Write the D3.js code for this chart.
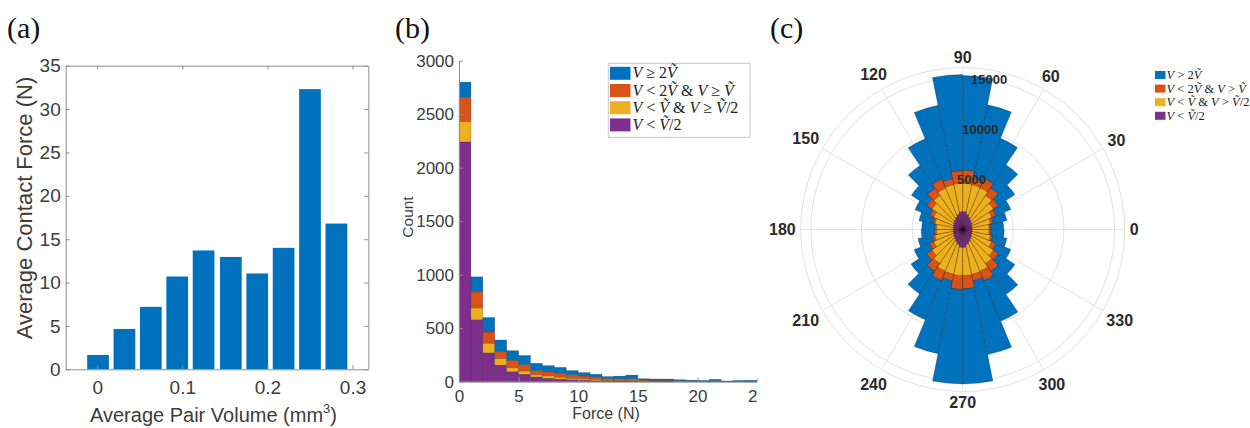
<!DOCTYPE html>
<html>
<head>
<meta charset="utf-8">
<script src="https://cdn.jsdelivr.net/npm/d3@7"></script>
<style>
  body { margin: 0; background: #fff; }
  svg { display: block; }
</style>
</head>
<body>
<svg id="fig" width="1250" height="428"></svg>
<script>
// ---------------- data ----------------
// (a) average contact force per pair-volume bin
const volumeBins = [0.001, 0.032, 0.063, 0.094, 0.125, 0.157, 0.188, 0.219, 0.250, 0.281];
const avgContactForce = [1.65, 4.65, 7.2, 10.7, 13.7, 12.95, 11.05, 14.0, 32.3, 16.8];
const forceTicksA = [0, 5, 10, 15, 20, 25, 30, 35];
const volumeTicks = [0, 0.1, 0.2, 0.3];

// (b) contact-force histogram (bins of 1 N) split by pair-volume class
const forceBinStart = [0, 1, 2, 3, 4, 5, 6, 7, 8, 9, 10, 11, 12, 13, 14, 15, 16, 17, 18, 19, 20, 21, 22, 23, 24];
const countSmall   = [2240, 580, 270, 155, 95, 70, 45, 32, 24, 18, 14, 11, 8, 6, 6, 4, 3, 3, 2, 2, 1, 2, 1, 1, 1];   // V < V~/2
const countMidLow  = [190, 110, 90, 60, 35, 30, 20, 23, 18, 14, 12, 9, 7, 7, 6, 5, 4, 3, 3, 2, 2, 2, 1, 1, 1];      // V~/2 <= V < V~
const countMidHigh = [225, 150, 105, 65, 70, 60, 40, 37, 38, 33, 28, 25, 15, 15, 16, 7, 6, 6, 5, 4, 3, 5, 2, 3, 3];  // V~ <= V < 2V~
const countLarge   = [145, 140, 135, 110, 90, 85, 67, 58, 54, 39, 31, 25, 18, 24, 34, 12, 12, 13, 9, 6, 5, 13, 3, 6, 8]; // V >= 2V~
const forceTicksB = [0, 5, 10, 15, 20, 25];
const countTicks = [0, 500, 1000, 1500, 2000, 2500, 3000];
const legendB = ["V \u2265 2V\u0303", "V < 2V\u0303 & V \u2265 V\u0303", "V < V\u0303 & V \u2265 V\u0303/2", "V < V\u0303/2"];

// (c) contact-direction rose, 32 sectors counter-clockwise from 0 deg
const roseLarge = [4050, 4450, 5150, 6200, 7700, 9750, 12550, 15200, 15300, 12500, 9700, 7600, 6100, 5100, 4400, 4050,
                   4100, 4500, 5200, 6150, 7650, 9650, 12500, 15250, 15250, 12600, 9800, 7700, 6200, 5150, 4450, 4100];
const roseMidHigh = [2770, 3050, 3550, 4250, 4950, 5450, 5150, 5850, 5800, 5100, 5400, 4900, 4250, 3500, 3000, 2750,
                     2800, 3050, 3550, 4300, 4950, 5450, 5150, 5900, 5850, 5150, 5450, 4950, 4250, 3550, 3000, 2780];
const roseMidLow = [2600, 2800, 3100, 3650, 4050, 4450, 4500, 4550, 4550, 4500, 4400, 4050, 3650, 3100, 2800, 2600,
                    2600, 2800, 3100, 3650, 4050, 4450, 4500, 4550, 4550, 4500, 4450, 4050, 3650, 3100, 2800, 2600];
const roseSmall = [910, 940, 990, 1070, 1190, 1330, 1530, 1760, 1760, 1530, 1330, 1190, 1070, 990, 940, 910,
                   910, 940, 990, 1070, 1190, 1330, 1530, 1760, 1760, 1530, 1330, 1190, 1070, 990, 940, 910];
const thetaTicks = [0, 30, 60, 90, 120, 150, 180, 210, 240, 270, 300, 330];
const rTicks = [5000, 10000, 15000];
const legendC = ["V > 2V\u0303", "V < 2V\u0303 & V > V\u0303", "V < V\u0303 & V > V\u0303/2", "V < V\u0303/2"];

// ---------------- styles ----------------
const BLUE = "#0072BD", ORANGE = "#D95319", YELLOW = "#EDB120", PURPLE = "#7E2F8E";
const AXIS = "#8f8f8f", TEXT = "#3c3c3c";
const SANS = "'Liberation Sans', Arial, Helvetica, sans-serif";
const SERIF = "'Liberation Serif', 'Times New Roman', serif";

const svg = d3.select("#fig");

function styleAxis(g, size) {
  g.attr("font-family", SANS).attr("font-size", size);
  g.select(".domain").attr("stroke", AXIS).attr("stroke-width", 1);
  g.selectAll(".tick line").attr("stroke", AXIS);
  g.selectAll(".tick text").attr("fill", TEXT);
}

function mathLabel(textSel, str) {
  const parts = str.match(/V\u0303?|[^V]+/g);
  parts.forEach(p => textSel.append("tspan")
    .attr("font-style", p[0] === "V" ? "italic" : "normal")
    .text(p));
}

// panel letters
[["(a)", 7], ["(b)", 395], ["(c)", 770]].forEach(([t, x]) => {
  svg.append("text").attr("x", x).attr("y", 38)
    .attr("font-family", SERIF).attr("font-size", 30).attr("fill", "#111").text(t);
});

// ---------------- (a) bar chart ----------------
{
  const g = svg.append("g");
  const x = d3.scaleLinear().domain([-0.037, 0.3185]).range([65.7, 368.3]);
  const y = d3.scaleLinear().domain([0, 35]).range([369.3, 65.7]);
  const barW = 0.0255;

  g.selectAll("rect.bar").data(volumeBins).join("rect").attr("class", "bar")
    .attr("x", d => x(d - barW / 2))
    .attr("width", d => x(d + barW / 2) - x(d - barW / 2))
    .attr("y", (d, i) => y(avgContactForce[i]))
    .attr("height", (d, i) => y(0) - y(avgContactForce[i]))
    .attr("fill", BLUE);

  const fmt = d => String(d);
  g.append("g").attr("transform", `translate(${x.range()[0]},0)`)
    .call(d3.axisLeft(y).tickValues(forceTicksA).tickSize(-4).tickSizeOuter(0).tickPadding(5))
    .call(s => styleAxis(s, 19));
  g.append("g").attr("transform", `translate(${x.range()[1]},0)`)
    .call(d3.axisRight(y).tickValues(forceTicksA).tickSize(-4).tickSizeOuter(0).tickFormat(""))
    .call(s => styleAxis(s, 19));
  g.append("g").attr("transform", `translate(0,${y.range()[0]})`)
    .call(d3.axisBottom(x).tickValues(volumeTicks).tickSize(-4).tickSizeOuter(0).tickPadding(11).tickFormat(fmt))
    .call(s => styleAxis(s, 19));
  g.append("g").attr("transform", `translate(0,${y.range()[1]})`)
    .call(d3.axisTop(x).tickValues(volumeTicks).tickSize(-4).tickSizeOuter(0).tickFormat(""))
    .call(s => styleAxis(s, 19));

  const xl = g.append("text").attr("x", 213.5).attr("y", 422).attr("text-anchor", "middle")
    .attr("font-family", SANS).attr("font-size", 20).attr("fill", TEXT);
  xl.append("tspan").text("Average Pair Volume (mm");
  xl.append("tspan").attr("font-size", 13).attr("dy", -9).text("3");
  xl.append("tspan").attr("dy", 9).text(")");

  g.append("text").attr("transform", "translate(32,208) rotate(-90)").attr("text-anchor", "middle")
    .attr("font-family", SANS).attr("font-size", 22).attr("fill", TEXT)
    .text("Average Contact Force (N)");
}

// ---------------- (b) stacked histogram ----------------
{
  svg.append("clipPath").attr("id", "clipB")
    .append("rect").attr("x", 380).attr("y", 0).attr("width", 377.5).attr("height", 428);
  const g = svg.append("g").attr("clip-path", "url(#clipB)");
  const x = d3.scaleLinear().domain([0, 25]).range([459, 757]);
  const y = d3.scaleLinear().domain([0, 3000]).range([381.7, 60.7]);

  const rows = forceBinStart.map((b, i) => ({
    bin: b, small: countSmall[i], midLow: countMidLow[i], midHigh: countMidHigh[i], large: countLarge[i]
  }));
  const keys = ["small", "midLow", "midHigh", "large"];
  const colors = { small: PURPLE, midLow: YELLOW, midHigh: ORANGE, large: BLUE };
  const stacked = d3.stack().keys(keys)(rows);

  g.selectAll("g.layer").data(stacked).join("g").attr("class", "layer")
    .attr("fill", s => colors[s.key])
    .selectAll("rect").data(s => s).join("rect")
      .attr("x", d => x(d.data.bin))
      .attr("width", d => x(d.data.bin + 1) - x(d.data.bin))
      .attr("y", d => y(d[1]))
      .attr("height", d => y(d[0]) - y(d[1]))
      .attr("stroke", "#000").attr("stroke-opacity", 0.28).attr("stroke-width", 0.6);

  g.append("g").attr("transform", `translate(${x.range()[0]},0)`)
    .call(d3.axisLeft(y).tickValues(countTicks).tickSize(-4).tickSizeOuter(0).tickPadding(5).tickFormat(d3.format("d")))
    .call(s => styleAxis(s, 17));
  g.append("g").attr("transform", `translate(0,${y.range()[0]})`)
    .call(d3.axisBottom(x).tickValues(forceTicksB).tickSize(-4).tickSizeOuter(0).tickPadding(8))
    .call(s => styleAxis(s, 17));

  g.append("text").attr("x", 606).attr("y", 418.5).attr("text-anchor", "middle")
    .attr("font-family", SANS).attr("font-size", 16).attr("fill", TEXT).text("Force (N)");
  g.append("text").attr("transform", "translate(412.5,217) rotate(-90)").attr("text-anchor", "middle")
    .attr("font-family", SANS).attr("font-size", 15.5).attr("fill", TEXT).text("Count");

  // legend
  const lg = g.append("g");
  lg.append("rect").attr("x", 608.3).attr("y", 63.3).attr("width", 141.7).attr("height", 74)
    .attr("fill", "#fff").attr("stroke", "#c8c8c8");
  const legendColors = [BLUE, ORANGE, YELLOW, PURPLE];
  legendB.forEach((lab, i) => {
    const cy = 73.3 + i * 17.2;
    lg.append("rect").attr("x", 610).attr("y", cy - 6.5).attr("width", 20.5).attr("height", 13)
      .attr("fill", legendColors[i]);
    const t = lg.append("text").attr("x", 632.5).attr("y", cy + 5)
      .attr("font-family", SERIF).attr("font-size", 16).attr("fill", "#222");
    mathLabel(t, lab);
  });
}

// ---------------- (c) polar histogram ----------------
{
  const cx = 962.7, cy = 229.5;
  const g = svg.append("g").attr("transform", `translate(${cx},${cy})`);
  const r = d3.scaleLinear().domain([0, 16000]).range([0, 162]);
  const rMax = r.domain()[1];
  const sector = 360 / roseLarge.length;
  const rad = Math.PI / 180;

  // grid
  rTicks.concat([rMax]).forEach(v => {
    g.append("circle").attr("r", r(v)).attr("fill", "none")
      .attr("stroke", "#e2e2e2").attr("stroke-width", 1);
  });
  thetaTicks.forEach(a => {
    g.append("line").attr("x1", 0).attr("y1", 0)
      .attr("x2", r(rMax) * Math.cos(a * rad)).attr("y2", -r(rMax) * Math.sin(a * rad))
      .attr("stroke", "#e2e2e2").attr("stroke-width", 1);
  });

  const arc = d3.arc().innerRadius(0);
  const layers = [[roseLarge, BLUE], [roseMidHigh, ORANGE], [roseMidLow, YELLOW], [roseSmall, PURPLE]];
  layers.forEach(([vals, col]) => {
    g.append("g").selectAll("path").data(vals).join("path")
      .attr("d", (v, i) => arc({
        outerRadius: r(v),
        startAngle: Math.PI / 2 - (i + 1) * sector * rad,
        endAngle: Math.PI / 2 - i * sector * rad
      }))
      .attr("fill", col)
      .attr("stroke", "#000").attr("stroke-opacity", 0.4).attr("stroke-width", 0.6);
  });

  // radial tick labels along 80 deg
  rTicks.forEach(v => {
    g.append("text")
      .attr("x", r(v) * Math.cos(80 * rad)).attr("y", -r(v) * Math.sin(80 * rad))
      .attr("text-anchor", "middle").attr("dominant-baseline", "central")
      .attr("font-family", SANS).attr("font-size", 13).attr("font-weight", "bold")
      .attr("fill", "#2a2a2a").text(v);
  });

  // angular tick labels
  thetaTicks.forEach(a => {
    const t = g.append("text").attr("text-anchor", "middle").attr("dominant-baseline", "central")
      .attr("font-family", SANS).attr("font-size", 16).attr("font-weight", "bold")
      .attr("fill", "#2a2a2a").text(a);
    const w = t.node().getComputedTextLength();
    const c = Math.cos(a * rad), s = Math.sin(a * rad);
    const rr = 167 + Math.abs(c) * w / 2 + Math.abs(s) * 5.5;
    t.attr("x", rr * c).attr("y", -rr * s);
  });

  // legend (runs past the right edge of the figure)
  const legendColors = [BLUE, ORANGE, YELLOW, PURPLE];
  legendC.forEach((lab, i) => {
    const ly = 75 + i * 13.6;
    svg.append("rect").attr("x", 1155).attr("y", ly - 4).attr("width", 10.5).attr("height", 8)
      .attr("fill", legendColors[i]);
    const t = svg.append("text").attr("x", 1166.5).attr("y", ly + 4)
      .attr("font-family", SERIF).attr("font-size", 12.5).attr("fill", "#222");
    mathLabel(t, lab);
  });
}
</script>
</body>
</html>
